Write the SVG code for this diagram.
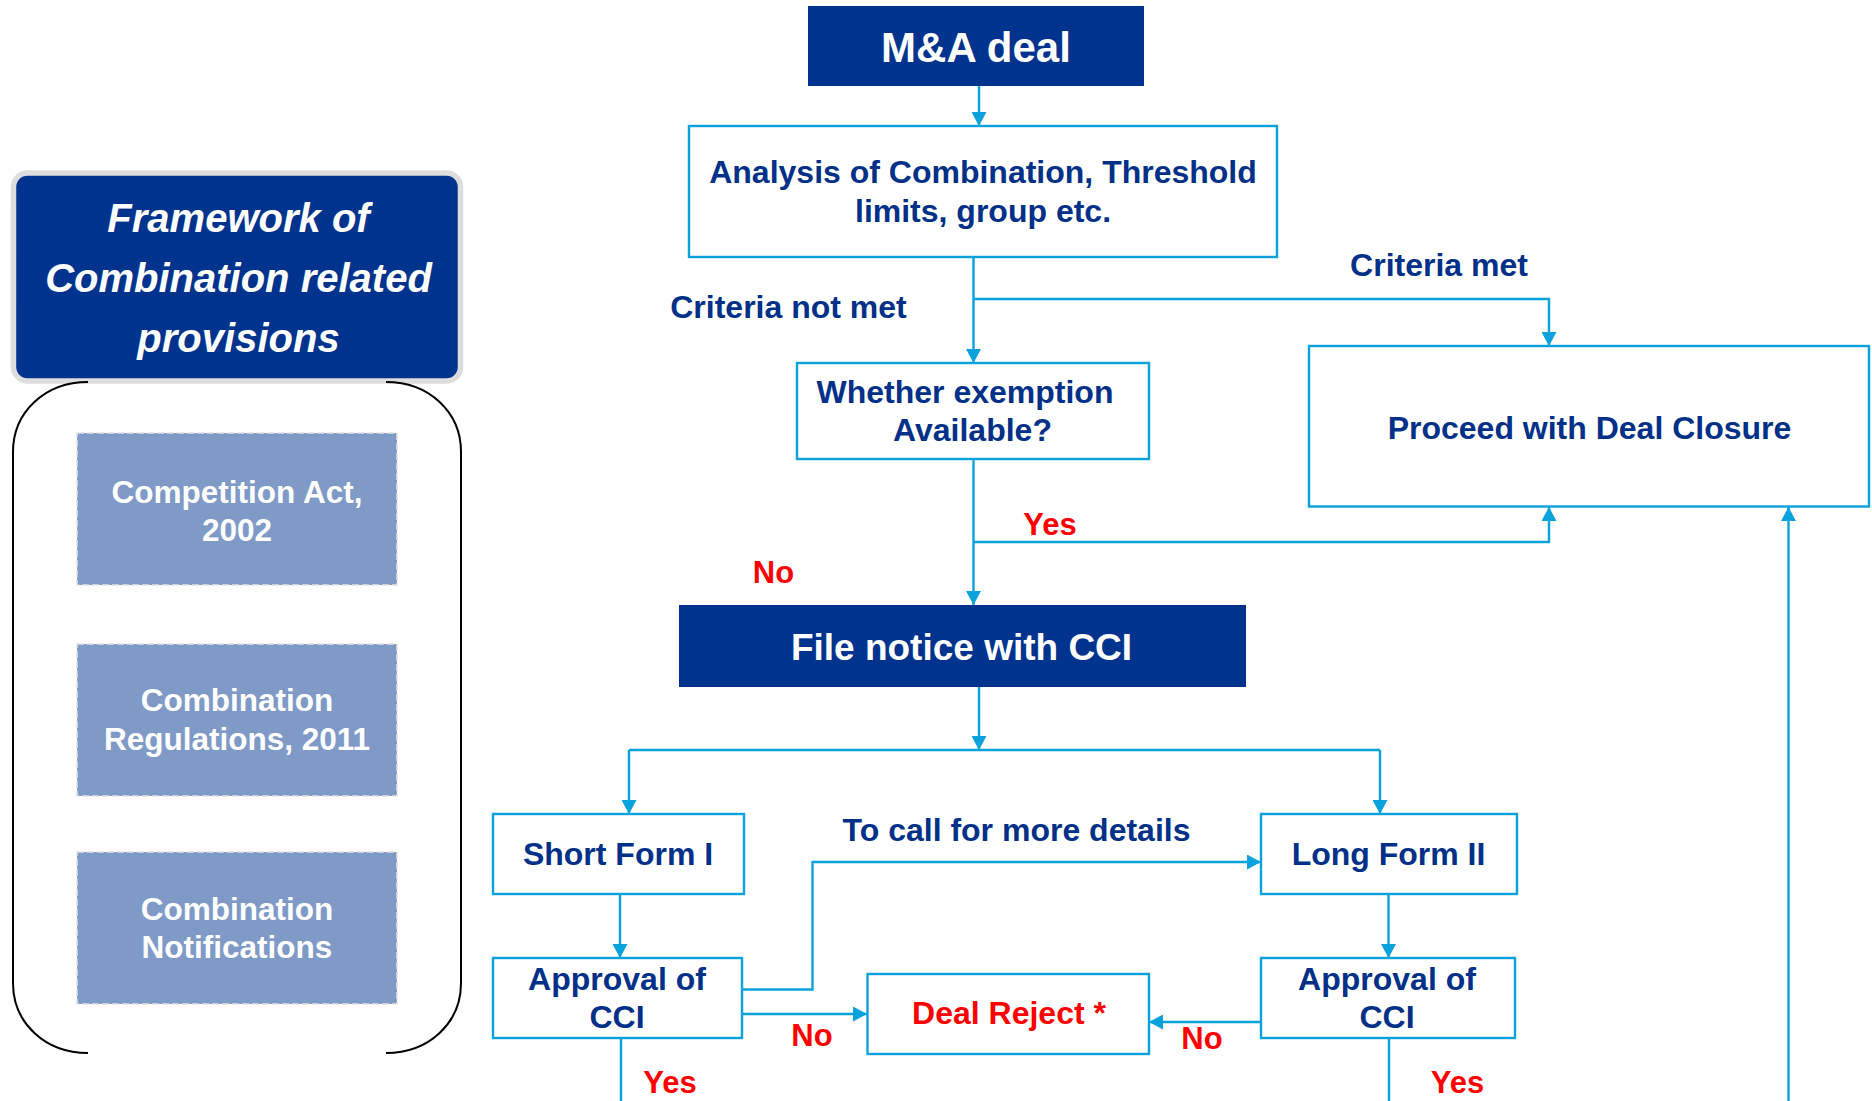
<svg xmlns="http://www.w3.org/2000/svg" width="1872" height="1101" viewBox="0 0 1872 1101">
  <style>
    text { font-family: "Liberation Sans", Arial, sans-serif; font-weight: bold; text-anchor: middle; }
    .dark { fill: #00338D; }
    .outline { fill: #FFFFFF; stroke: #0AA2DD; stroke-width: 2.4; }
    .wt { fill: #FFFFFF; }
    .bt { fill: #003087; font-size: 32px; }
    .rt { fill: #FF0000; font-size: 31px; }
    .law { fill: #7F9AC7; stroke: #E2E2E2; stroke-width: 1.6; stroke-dasharray: 7 3; }
    .lawt { fill: #FFFFFF; font-size: 31.5px; }
    .conn { fill: none; stroke: #0AA2DD; stroke-width: 2.4; }
    .brk { fill: none; stroke: #000000; stroke-width: 2; }
  </style>
  <defs>
    <marker id="arr" viewBox="0 0 14 15" refX="14" refY="7.5" markerWidth="14" markerHeight="15" orient="auto" markerUnits="userSpaceOnUse">
      <path d="M0,0 L14,7.5 L0,15 z" fill="#0AA2DD"/>
    </marker>
  </defs>

  <rect width="1872" height="1101" fill="#FFFFFF"/>

  <!-- Left panel -->
  <g id="framework">
    <rect x="13.5" y="173" width="447" height="208" rx="14" fill="#00338D" stroke="#DDDDDD" stroke-width="5.5"/>
    <text class="wt" x="238.5" y="232" font-size="40" font-style="italic">Framework of</text>
    <text class="wt" x="238.5" y="292" font-size="40" font-style="italic">Combination related</text>
    <text class="wt" x="238.5" y="352" font-size="40" font-style="italic">provisions</text>
  </g>
  <g id="bracket">
    <path class="brk" d="M88,382 C45,382 13,412 13,452 L13,983 C13,1023 45,1053 88,1053"/>
    <path class="brk" d="M386,382 C429,382 461,412 461,452 L461,983 C461,1023 429,1053 386,1053"/>
  </g>
  <g id="competition-act">
    <rect class="law" x="77" y="433" width="320" height="152"/>
    <text class="lawt" x="237" y="503">Competition Act,</text>
    <text class="lawt" x="237" y="541">2002</text>
  </g>
  <g id="combination-regulations">
    <rect class="law" x="77" y="644" width="320" height="152"/>
    <text class="lawt" x="237" y="711">Combination</text>
    <text class="lawt" x="237" y="750">Regulations, 2011</text>
  </g>
  <g id="combination-notifications">
    <rect class="law" x="77" y="852" width="320" height="152"/>
    <text class="lawt" x="237" y="920">Combination</text>
    <text class="lawt" x="237" y="958">Notifications</text>
  </g>

  <!-- Connectors -->
  <g id="connectors">
    <path class="conn" d="M979,86 L979,126" marker-end="url(#arr)"/>
    <path class="conn" d="M973.5,257 L973.5,363" marker-end="url(#arr)"/>
    <path class="conn" d="M973.5,299 L1549,299 L1549,346" marker-end="url(#arr)"/>
    <path class="conn" d="M973.5,459 L973.5,605" marker-end="url(#arr)"/>
    <path class="conn" d="M973.5,542 L1549,542 L1549,507" marker-end="url(#arr)"/>
    <path class="conn" d="M979,687 L979,750" marker-end="url(#arr)"/>
    <path class="conn" d="M629,750 L1380,750"/>
    <path class="conn" d="M629,750 L629,814" marker-end="url(#arr)"/>
    <path class="conn" d="M1380,750 L1380,814" marker-end="url(#arr)"/>
    <path class="conn" d="M620,894 L620,958" marker-end="url(#arr)"/>
    <path class="conn" d="M742,989.5 L812.5,989.5 L812.5,862 L1261,862" marker-end="url(#arr)"/>
    <path class="conn" d="M742,1014 L867,1014" marker-end="url(#arr)"/>
    <path class="conn" d="M1388.5,894 L1388.5,958" marker-end="url(#arr)"/>
    <path class="conn" d="M1261,1022 L1149,1022" marker-end="url(#arr)"/>
    <path class="conn" d="M621,1038 L621,1101"/>
    <path class="conn" d="M1389,1038 L1389,1101"/>
    <path class="conn" d="M1788.5,1101 L1788.5,507" marker-end="url(#arr)"/>
  </g>

  <!-- Flow nodes -->
  <g id="ma-deal">
    <rect class="dark" x="808" y="6" width="336" height="80"/>
    <text class="wt" x="976" y="62" font-size="42">M&amp;A deal</text>
  </g>
  <g id="analysis">
    <rect class="outline" x="689" y="126" width="588" height="131"/>
    <text class="bt" x="983" y="183">Analysis of Combination, Threshold</text>
    <text class="bt" x="983" y="222">limits, group etc.</text>
  </g>
  <g id="whether-exemption">
    <rect class="outline" x="797" y="363" width="352" height="96"/>
    <text class="bt" x="965" y="403">Whether exemption</text>
    <text class="bt" x="972.5" y="441">Available?</text>
  </g>
  <g id="proceed">
    <rect class="outline" x="1309" y="346" width="560" height="160.5"/>
    <text class="bt" x="1589.5" y="438.5">Proceed with Deal Closure</text>
  </g>
  <g id="file-notice">
    <rect class="dark" x="679" y="605" width="567" height="82"/>
    <text class="wt" x="961.5" y="660" font-size="37">File notice with CCI</text>
  </g>
  <g id="short-form">
    <rect class="outline" x="493" y="814" width="251" height="80"/>
    <text class="bt" x="618" y="865">Short Form I</text>
  </g>
  <g id="long-form">
    <rect class="outline" x="1261" y="814" width="256" height="80"/>
    <text class="bt" x="1388.5" y="865">Long Form II</text>
  </g>
  <g id="approval-left">
    <rect class="outline" x="493" y="958" width="249" height="80"/>
    <text class="bt" x="617" y="990">Approval of</text>
    <text class="bt" x="617" y="1027.5">CCI</text>
  </g>
  <g id="deal-reject">
    <rect class="outline" x="867.5" y="974" width="281.5" height="80"/>
    <text x="1009" y="1024" font-size="32" fill="#FF0000">Deal Reject *</text>
  </g>
  <g id="approval-right">
    <rect class="outline" x="1261" y="958" width="254" height="80"/>
    <text class="bt" x="1387" y="990">Approval of</text>
    <text class="bt" x="1387" y="1027.5">CCI</text>
  </g>

  <!-- Labels -->
  <g id="labels">
    <text class="bt" x="788.5" y="318">Criteria not met</text>
    <text class="bt" x="1439" y="276">Criteria met</text>
    <text class="rt" x="1050" y="535">Yes</text>
    <text class="rt" x="773.5" y="583">No</text>
    <text class="bt" x="1016.5" y="841">To call for more details</text>
    <text class="rt" x="812" y="1046">No</text>
    <text class="rt" x="1202" y="1049">No</text>
    <text class="rt" x="670" y="1092.5">Yes</text>
    <text class="rt" x="1457.5" y="1093">Yes</text>
  </g>
</svg>
